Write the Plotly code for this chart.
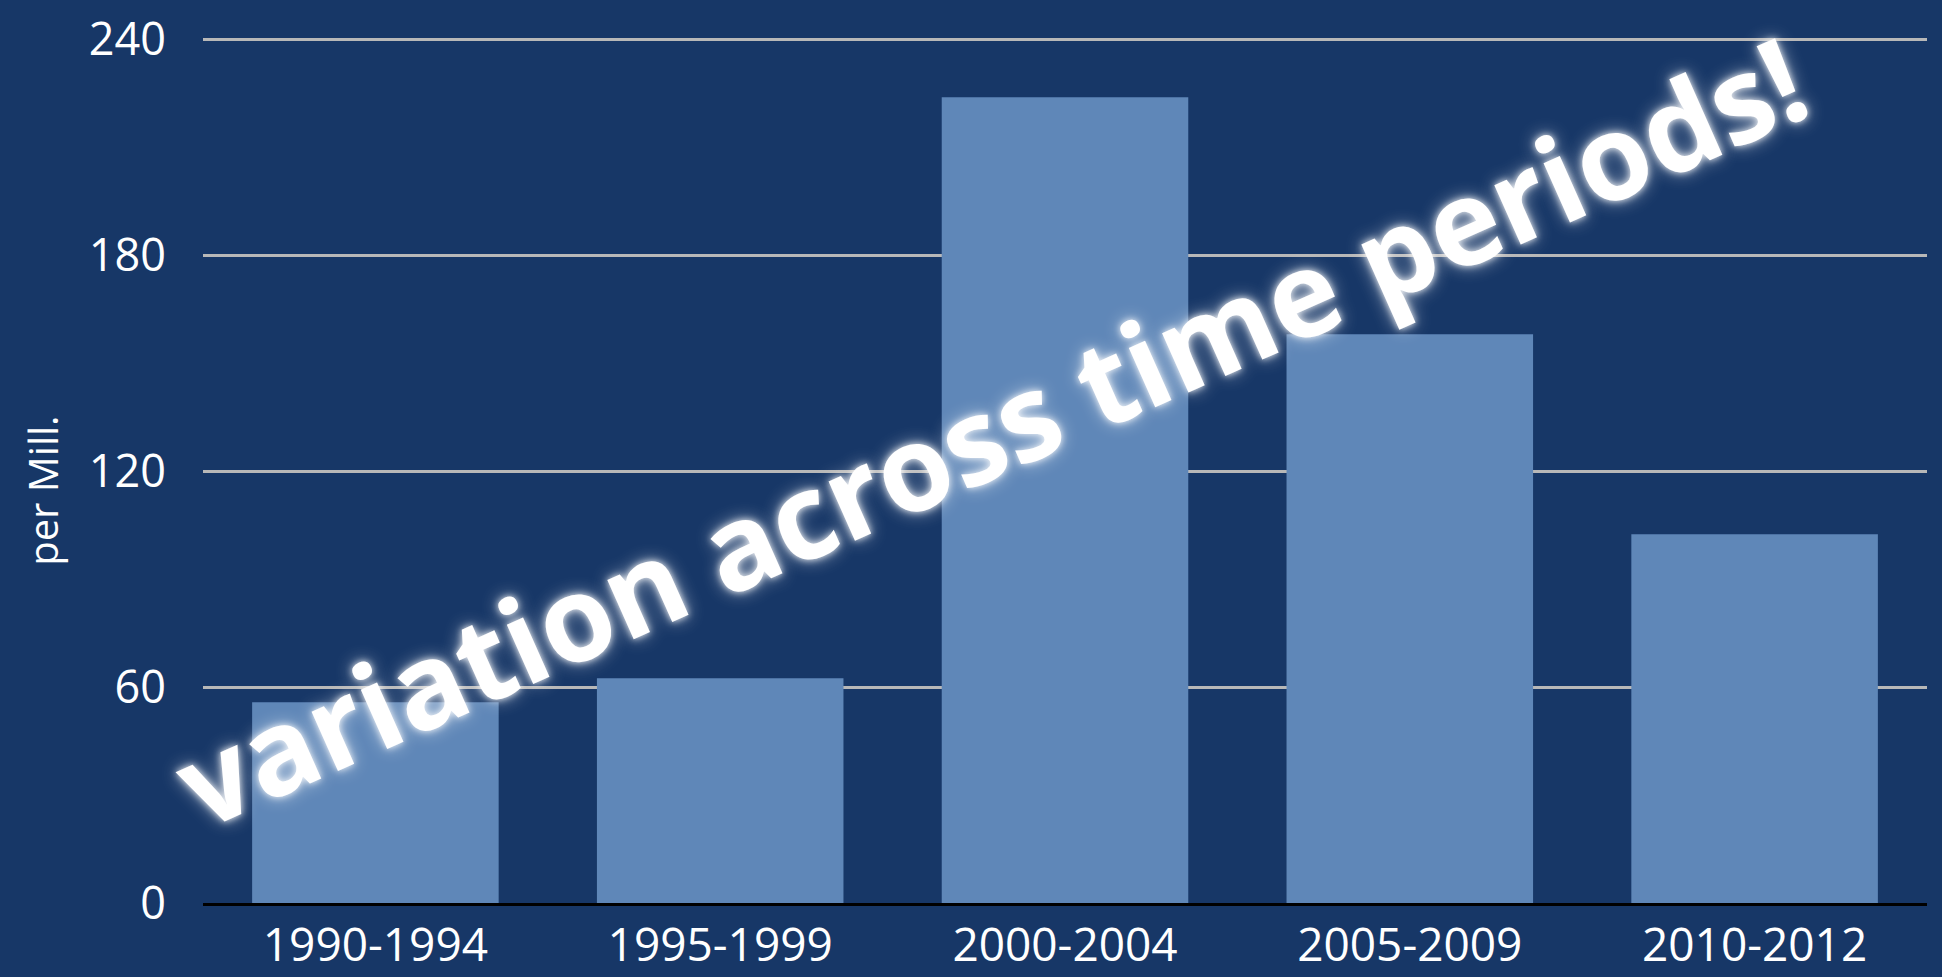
import plotly.graph_objects as go

# Rate per million by time period
periods = ["1990-1994", "1995-1999", "2000-2004", "2005-2009", "2010-2012"]
rate_per_mill = [55.8, 62.5, 224.0, 158.1, 102.5]
y_ticks = [0, 60, 120, 180, 240]

BG = "#173767"
BAR = "#5F87B8"
FONT = "Open Sans, Noto Sans, sans-serif"

fig = go.Figure()
fig.add_trace(go.Bar(
    x=periods,
    y=rate_per_mill,
    marker=dict(color=BAR, line=dict(width=0)),
    hoverinfo="x+y",
))

fig.update_layout(
    width=1942,
    height=977,
    paper_bgcolor=BG,
    plot_bgcolor=BG,
    margin=dict(l=203, r=15, t=36, b=74),
    bargap=0.285,
    showlegend=False,
    font=dict(family=FONT, color="white"),
)

fig.update_xaxes(
    showgrid=False,
    showline=True,
    linecolor="black",
    linewidth=2.5,
    ticks="",
    tickfont=dict(size=46, color="white"),
    ticklabelstandoff=0,
    automargin=False,
)

# top of range sits just above 240 so its gridline stays visible
fig.update_yaxes(
    range=[0, 241],
    tickvals=y_ticks,
    showgrid=True,
    gridcolor="#B8B8B8",
    gridwidth=2.5,
    zeroline=False,
    showline=False,
    ticks="",
    tickfont=dict(size=45, color="white"),
    ticklabelstandoff=36,
    automargin=False,
)

# y-axis caption
fig.add_annotation(
    text="per Mill.",
    xref="paper", yref="paper",
    x=-0.093, y=0.475,
    xanchor="center", yanchor="middle",
    textangle=-90,
    showarrow=False,
    font=dict(family=FONT, size=40, color="white"),
)

# Diagonal callout across the bars
fig.add_annotation(
    text="<b>variation across time periods!</b>",
    xref="paper", yref="paper",
    x=0.457, y=0.545,
    xanchor="center", yanchor="middle",
    textangle=-24,
    showarrow=False,
    font=dict(
        family=FONT, size=119, color="white",
        shadow="0px 0px 7px rgba(255,255,255,0.9), 0px 0px 18px rgba(255,255,255,0.6)",
    ),
)

fig.write_html("out.html")
